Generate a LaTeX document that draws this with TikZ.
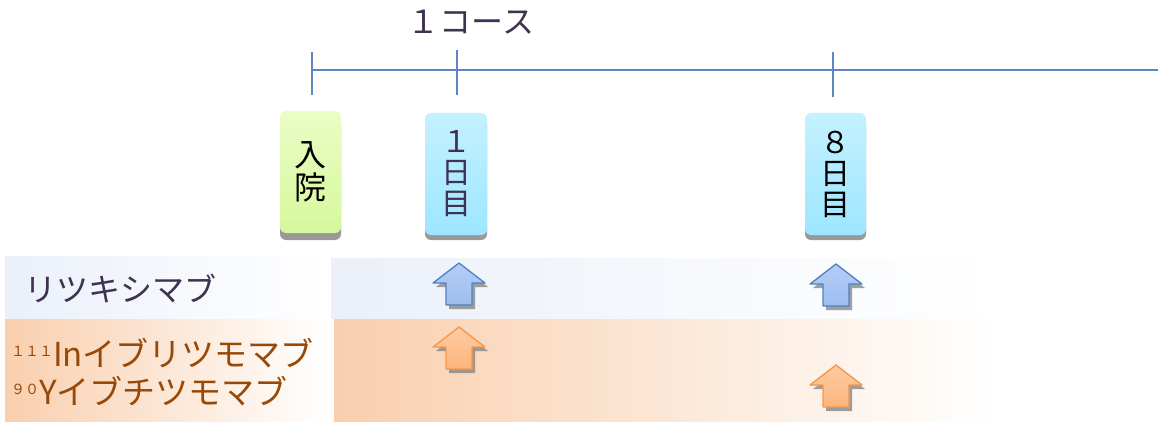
\documentclass[tikz,border=0pt]{standalone}
\usepackage{fontspec}
\newfontfamily\jp{Noto Sans CJK JP}
\definecolor{tline}{HTML}{5A87C2}
\definecolor{txtd}{HTML}{3F3151}
\definecolor{txtb}{HTML}{984807}
\definecolor{bandblue}{HTML}{EBF0F9}
\definecolor{bandor}{HTML}{F9CFAE}
\definecolor{greentop}{HTML}{EAFDC6}
\definecolor{greenbot}{HTML}{D6F89C}
\definecolor{bluetop}{HTML}{C4F1FF}
\definecolor{bluebot}{HTML}{9DE6FF}
\definecolor{arrbl}{HTML}{4F81BD}
\definecolor{arrblf}{HTML}{B4CDF7}
\definecolor{arrblf2}{HTML}{9EBDEF}
\definecolor{arror}{HTML}{F79646}
\definecolor{arrorf}{HTML}{FECBA0}
\definecolor{arrorf2}{HTML}{FDB57C}
\newcommand\uparr[5]{%
  % #1 cx, #2 tip y, #3 stroke, #4 top fill, #5 bottom fill
  \fill[black!50,opacity=0.75] (#1+3,#2+4) -- (#1+29,#2+24) -- (#1+16,#2+24) -- (#1+16,#2+46) -- (#1-10,#2+46) -- (#1-10,#2+24) -- (#1-23,#2+24) -- cycle;
  \shade[top color=#4,bottom color=#5,draw=#3,line width=1.3pt,line join=round]
    (#1,#2) -- (#1+26,#2+20) -- (#1+13,#2+20) -- (#1+13,#2+42) -- (#1-13,#2+42) -- (#1-13,#2+20) -- (#1-26,#2+20) -- cycle;}
\tikzset{
  daybox/.style={rounded corners=6pt,minimum width=61pt,minimum height=122pt,inner sep=0pt,
    align=center,font=\jp\fontsize{30}{31}\selectfont},
  boxshadow/.style={fill=black!40,rounded corners=6pt},
  rowlbl/.style={anchor=west,inner sep=0pt,font=\jp\fontsize{32}{32}\selectfont},
}
\begin{document}
\begin{tikzpicture}[x=1pt,y=-1pt]
\useasboundingbox (0,0) rectangle (1158,422);
% bands
\shade[left color=bandblue,right color=white] (5,256) rectangle (330,318);
\shade[left color=bandblue,right color=white] (331,258) rectangle (1000,318);
\shade[left color=bandor,right color=white] (5,319) rectangle (330,421);
\shade[left color=bandor,right color=white] (334,319) rectangle (1000,421);
% timeline
\draw[tline,line width=1.3pt] (312,70) -- (1158,70);
\draw[tline,line width=1.3pt] (312,52) -- (312,95);
\draw[tline,line width=1.3pt] (457,50) -- (457,95);
\draw[tline,line width=1.3pt] (833,52) -- (833,97);
\node[text=txtd,font=\jp\fontsize{32}{32}\selectfont,inner sep=0pt] (course) at (471,22) {１コース};
% boxes
\fill[boxshadow] (280,118) rectangle (341,240);
\fill[boxshadow] (425,118) rectangle (487,240);
\fill[boxshadow] (805,118) rectangle (866,240);
\node[daybox,top color=greentop,bottom color=greenbot,text=black,font=\jp\fontsize{32}{33}\selectfont] (nyuin) at (310.5,172) {入\\院};
\node[daybox,minimum width=62pt,top color=bluetop,bottom color=bluebot,text=txtd] (day1) at (456,174) {１\\日\\目};
\node[daybox,top color=bluetop,bottom color=bluebot,text=black] (day8) at (835.5,174) {８\\日\\目};
% row labels
\node[rowlbl,text=txtd] (ritux) at (24,289) {リツキシマブ};
\node[rowlbl,text=txtb,font=\jp\fontsize{33}{33}\selectfont] (inib) at (11,353)
  {\raisebox{10pt}{\fontsize{14}{14}\selectfont １１１}Inイブリツモマブ};
\node[rowlbl,text=txtb,font=\jp\fontsize{33}{33}\selectfont] (yib) at (11,391)
  {\raisebox{10pt}{\fontsize{14}{14}\selectfont ９０}Yイブチツモマブ};
% arrows
\uparr{459}{263}{arrbl}{arrblf}{arrblf2}
\uparr{836}{264}{arrbl}{arrblf}{arrblf2}
\uparr{459}{327}{arror}{arrorf}{arrorf2}
\uparr{836}{365}{arror}{arrorf}{arrorf2}
\end{tikzpicture}
\end{document}
